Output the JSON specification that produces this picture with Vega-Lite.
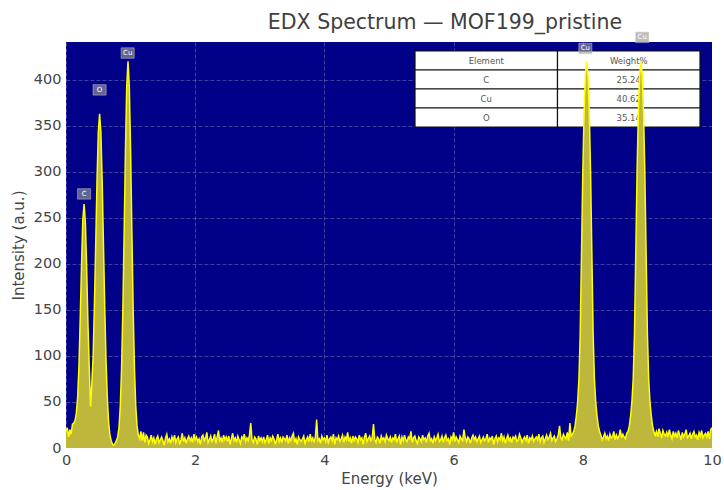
{
"$schema": "https://vega.github.io/schema/vega-lite/v6.json",
"width": 646, "height": 406,
"autosize": "none",
"padding": {"left": 66, "top": 42, "right": 12, "bottom": 42},
"background": "white",
"title": {"text": "EDX Spectrum — MOF199_pristine", "fontSize": 20.5, "fontWeight": "normal", "font": "DejaVu Sans", "color": "#404040", "anchor": "middle", "dx": 56, "dy": 13, "offset": 10},
"config": {
  "view": {"fill": "#000088", "stroke": null},
  "axis": {"labelFont": "DejaVu Sans", "labelFontSize": 14.5, "labelColor": "#444", "titleFont": "DejaVu Sans", "titleFontSize": 15, "titleFontWeight": "normal", "titleColor": "#444", "domain": false, "ticks": false, "labelPadding": 5, "labelFlush": false, "gridColor": "#ffffff", "gridOpacity": 0.3, "gridDash": [4, 2], "gridWidth": 0.8}
},
"datasets": {
"spec": [
{"e":0.00,"i":18},{"e":0.02,"i":22},{"e":0.04,"i":12},{"e":0.06,"i":20},{"e":0.08,"i":15},{"e":0.10,"i":26},{"e":0.12,"i":27},{"e":0.14,"i":30},{"e":0.16,"i":38},{"e":0.18,"i":55},
{"e":0.20,"i":88},{"e":0.22,"i":140},{"e":0.24,"i":198},{"e":0.26,"i":248},{"e":0.28,"i":265},{"e":0.30,"i":245},{"e":0.32,"i":195},{"e":0.34,"i":135},{"e":0.36,"i":88},{"e":0.38,"i":45},
{"e":0.40,"i":70},{"e":0.42,"i":100},{"e":0.44,"i":155},{"e":0.46,"i":222},{"e":0.48,"i":290},{"e":0.50,"i":343},{"e":0.52,"i":363},{"e":0.54,"i":343},{"e":0.56,"i":290},{"e":0.58,"i":221},
{"e":0.60,"i":152},{"e":0.62,"i":94},{"e":0.64,"i":54},{"e":0.66,"i":28},{"e":0.68,"i":14},{"e":0.70,"i":8},{"e":0.72,"i":4},{"e":0.74,"i":3},{"e":0.76,"i":5},{"e":0.78,"i":8},
{"e":0.80,"i":12},{"e":0.82,"i":22},{"e":0.84,"i":45},{"e":0.86,"i":86},{"e":0.88,"i":150},{"e":0.90,"i":234},{"e":0.92,"i":323},{"e":0.94,"i":393},{"e":0.96,"i":420},{"e":0.98,"i":393},
{"e":1.00,"i":323},{"e":1.02,"i":234},{"e":1.04,"i":150},{"e":1.06,"i":86},{"e":1.08,"i":45},{"e":1.10,"i":24},{"e":1.12,"i":14},{"e":1.14,"i":10},{"e":1.16,"i":18},{"e":1.18,"i":8},
{"e":1.20,"i":17},{"e":1.22,"i":6},{"e":1.24,"i":14},
{"e":1.26,"i":12},{"e":1.28,"i":5},{"e":1.30,"i":9},{"e":1.32,"i":14},{"e":1.34,"i":7},{"e":1.36,"i":11},{"e":1.38,"i":4},{"e":1.40,"i":10},{"e":1.42,"i":13},{"e":1.44,"i":6},
{"e":1.46,"i":9},{"e":1.48,"i":12},{"e":1.50,"i":8},{"e":1.52,"i":3},{"e":1.54,"i":11},{"e":1.56,"i":15},{"e":1.58,"i":7},{"e":1.60,"i":10},{"e":1.62,"i":5},{"e":1.64,"i":12},
{"e":1.66,"i":8},{"e":1.68,"i":14},{"e":1.70,"i":6},{"e":1.72,"i":10},{"e":1.74,"i":12},{"e":1.76,"i":4},{"e":1.78,"i":9},{"e":1.80,"i":16},{"e":1.82,"i":7},{"e":1.84,"i":11},
{"e":1.86,"i":5},{"e":1.88,"i":10},{"e":1.90,"i":13},{"e":1.92,"i":8},{"e":1.94,"i":11},{"e":1.96,"i":6},{"e":1.98,"i":15},{"e":2.00,"i":9},{"e":2.02,"i":12},{"e":2.04,"i":7},
{"e":2.06,"i":10},{"e":2.08,"i":4},{"e":2.10,"i":12},{"e":2.12,"i":14},{"e":2.14,"i":8},{"e":2.16,"i":11},{"e":2.18,"i":17},{"e":2.20,"i":6},{"e":2.22,"i":9},{"e":2.24,"i":13},
{"e":2.26,"i":7},{"e":2.28,"i":10},{"e":2.30,"i":15},{"e":2.32,"i":5},{"e":2.34,"i":12},{"e":2.36,"i":19},{"e":2.38,"i":8},{"e":2.40,"i":11},{"e":2.42,"i":6},{"e":2.44,"i":14},
{"e":2.46,"i":9},{"e":2.48,"i":12},{"e":2.50,"i":7},{"e":2.52,"i":13},{"e":2.54,"i":4},{"e":2.56,"i":10},{"e":2.58,"i":16},{"e":2.60,"i":8},{"e":2.62,"i":11},{"e":2.64,"i":6},
{"e":2.66,"i":13},{"e":2.68,"i":9},{"e":2.70,"i":5},{"e":2.72,"i":12},{"e":2.74,"i":10},{"e":2.76,"i":15},{"e":2.78,"i":7},{"e":2.80,"i":11},{"e":2.82,"i":8},{"e":2.84,"i":14},
{"e":2.86,"i":27},{"e":2.88,"i":9},{"e":2.90,"i":6},{"e":2.92,"i":12},{"e":2.94,"i":10},{"e":2.96,"i":4},{"e":2.98,"i":13},{"e":3.00,"i":8},{"e":3.02,"i":11},{"e":3.04,"i":7},
{"e":3.06,"i":12},{"e":3.08,"i":6},{"e":3.10,"i":9},{"e":3.12,"i":14},{"e":3.14,"i":5},{"e":3.16,"i":11},{"e":3.18,"i":8},{"e":3.20,"i":13},{"e":3.22,"i":10},{"e":3.24,"i":4},
{"e":3.26,"i":9},{"e":3.28,"i":15},{"e":3.30,"i":7},{"e":3.32,"i":11},{"e":3.34,"i":6},{"e":3.36,"i":12},{"e":3.38,"i":10},{"e":3.40,"i":8},{"e":3.42,"i":14},{"e":3.44,"i":5},
{"e":3.46,"i":11},{"e":3.48,"i":8},{"e":3.50,"i":13},{"e":3.52,"i":16},{"e":3.54,"i":6},{"e":3.56,"i":10},{"e":3.58,"i":4},{"e":3.60,"i":12},{"e":3.62,"i":9},{"e":3.64,"i":7},
{"e":3.66,"i":10},{"e":3.68,"i":13},{"e":3.70,"i":5},{"e":3.72,"i":9},{"e":3.74,"i":12},{"e":3.76,"i":7},{"e":3.78,"i":15},{"e":3.80,"i":8},{"e":3.82,"i":11},{"e":3.84,"i":6},
{"e":3.86,"i":12},{"e":3.88,"i":31},{"e":3.90,"i":8},{"e":3.92,"i":10},{"e":3.94,"i":5},{"e":3.96,"i":13},{"e":3.98,"i":9},{"e":4.00,"i":11},{"e":4.02,"i":7},{"e":4.04,"i":14},
{"e":4.06,"i":6},{"e":4.08,"i":10},{"e":4.10,"i":12},{"e":4.12,"i":8},{"e":4.14,"i":15},{"e":4.16,"i":4},{"e":4.18,"i":11},{"e":4.20,"i":9},{"e":4.22,"i":13},{"e":4.24,"i":7},
{"e":4.26,"i":10},{"e":4.28,"i":14},{"e":4.30,"i":6},{"e":4.32,"i":12},{"e":4.34,"i":9},{"e":4.36,"i":17},{"e":4.38,"i":7},{"e":4.40,"i":11},{"e":4.42,"i":5},{"e":4.44,"i":13},
{"e":4.46,"i":8},{"e":4.48,"i":12},{"e":4.50,"i":10},{"e":4.52,"i":6},{"e":4.54,"i":14},{"e":4.56,"i":9},{"e":4.58,"i":11},{"e":4.60,"i":4},{"e":4.62,"i":12},{"e":4.64,"i":16},
{"e":4.66,"i":7},{"e":4.68,"i":10},{"e":4.70,"i":13},{"e":4.72,"i":8},{"e":4.74,"i":11},{"e":4.76,"i":26},{"e":4.78,"i":9},{"e":4.80,"i":6},{"e":4.82,"i":12},{"e":4.84,"i":10},
{"e":4.86,"i":5},{"e":4.88,"i":13},{"e":4.90,"i":9},{"e":4.92,"i":11},{"e":4.94,"i":7},{"e":4.96,"i":14},{"e":4.98,"i":10},{"e":5.00,"i":8},{"e":5.02,"i":12},{"e":5.04,"i":6},
{"e":5.06,"i":11},{"e":5.08,"i":9},{"e":5.10,"i":15},{"e":5.12,"i":6},{"e":5.14,"i":10},{"e":5.16,"i":13},{"e":5.18,"i":4},{"e":5.20,"i":12},{"e":5.22,"i":8},{"e":5.24,"i":14},
{"e":5.26,"i":9},{"e":5.28,"i":7},{"e":5.30,"i":12},{"e":5.32,"i":10},{"e":5.34,"i":18},{"e":5.36,"i":6},{"e":5.38,"i":11},{"e":5.40,"i":13},{"e":5.42,"i":8},{"e":5.44,"i":5},
{"e":5.46,"i":12},{"e":5.48,"i":10},{"e":5.50,"i":7},{"e":5.52,"i":14},{"e":5.54,"i":9},{"e":5.56,"i":11},{"e":5.58,"i":6},{"e":5.60,"i":13},{"e":5.62,"i":16},{"e":5.64,"i":8},
{"e":5.66,"i":10},{"e":5.68,"i":5},{"e":5.70,"i":12},{"e":5.72,"i":8},{"e":5.74,"i":11},{"e":5.76,"i":15},{"e":5.78,"i":7},{"e":5.80,"i":9},{"e":5.82,"i":13},{"e":5.84,"i":6},
{"e":5.86,"i":11},{"e":5.88,"i":14},{"e":5.90,"i":8},{"e":5.92,"i":10},{"e":5.94,"i":4},{"e":5.96,"i":12},{"e":5.98,"i":9},{"e":6.00,"i":17},{"e":6.02,"i":7},{"e":6.04,"i":12},
{"e":6.06,"i":9},{"e":6.08,"i":6},{"e":6.10,"i":13},{"e":6.12,"i":10},{"e":6.14,"i":8},{"e":6.16,"i":20},{"e":6.18,"i":11},{"e":6.20,"i":7},{"e":6.22,"i":12},{"e":6.24,"i":10},
{"e":6.26,"i":5},{"e":6.28,"i":11},{"e":6.30,"i":14},{"e":6.32,"i":9},{"e":6.34,"i":12},{"e":6.36,"i":7},{"e":6.38,"i":10},{"e":6.40,"i":13},{"e":6.42,"i":6},{"e":6.44,"i":9},
{"e":6.46,"i":12},{"e":6.48,"i":8},{"e":6.50,"i":10},{"e":6.52,"i":15},{"e":6.54,"i":6},{"e":6.56,"i":11},{"e":6.58,"i":9},{"e":6.60,"i":13},{"e":6.62,"i":4},{"e":6.64,"i":10},
{"e":6.66,"i":13},{"e":6.68,"i":7},{"e":6.70,"i":11},{"e":6.72,"i":9},{"e":6.74,"i":16},{"e":6.76,"i":8},{"e":6.78,"i":12},{"e":6.80,"i":5},{"e":6.82,"i":10},{"e":6.84,"i":14},
{"e":6.86,"i":8},{"e":6.88,"i":11},{"e":6.90,"i":6},{"e":6.92,"i":12},{"e":6.94,"i":10},{"e":6.96,"i":13},{"e":6.98,"i":7},{"e":7.00,"i":9},{"e":7.02,"i":15},{"e":7.04,"i":11},
{"e":7.06,"i":6},{"e":7.08,"i":10},{"e":7.10,"i":12},{"e":7.12,"i":8},{"e":7.14,"i":14},{"e":7.16,"i":5},{"e":7.18,"i":11},{"e":7.20,"i":9},{"e":7.22,"i":13},{"e":7.24,"i":7},
{"e":7.26,"i":10},{"e":7.28,"i":12},{"e":7.30,"i":9},{"e":7.32,"i":15},{"e":7.34,"i":7},{"e":7.36,"i":11},{"e":7.38,"i":13},{"e":7.40,"i":6},{"e":7.42,"i":10},{"e":7.44,"i":14},
{"e":7.46,"i":9},{"e":7.48,"i":12},{"e":7.50,"i":16},{"e":7.52,"i":8},{"e":7.54,"i":11},{"e":7.56,"i":13},{"e":7.58,"i":7},{"e":7.60,"i":10},{"e":7.62,"i":14},{"e":7.64,"i":24},
{"e":7.66,"i":11},{"e":7.68,"i":9},{"e":7.70,"i":15},{"e":7.72,"i":12},{"e":7.74,"i":10},{"e":7.76,"i":17},{"e":7.78,"i":8},{"e":7.80,"i":27},{"e":7.82,"i":13},{"e":7.84,"i":15},
{"e":7.86,"i":18},{"e":7.88,"i":24},{"e":7.90,"i":35},{"e":7.92,"i":50},{"e":7.94,"i":75},{"e":7.96,"i":124},{"e":7.98,"i":212},{"e":8.00,"i":300},{"e":8.02,"i":365},{"e":8.04,"i":405},
{"e":8.06,"i":420},{"e":8.08,"i":405},{"e":8.10,"i":365},{"e":8.12,"i":300},{"e":8.14,"i":212},{"e":8.16,"i":124},{"e":8.18,"i":75},{"e":8.20,"i":50},{"e":8.22,"i":35},{"e":8.24,"i":24},
{"e":8.26,"i":18},{"e":8.28,"i":14},{"e":8.30,"i":9},{"e":8.32,"i":12},{"e":8.34,"i":16},{"e":8.36,"i":10},{"e":8.38,"i":13},{"e":8.40,"i":8},{"e":8.42,"i":15},{"e":8.44,"i":11},
{"e":8.46,"i":12},{"e":8.48,"i":18},{"e":8.50,"i":9},{"e":8.52,"i":14},{"e":8.54,"i":10},{"e":8.56,"i":13},{"e":8.58,"i":20},{"e":8.60,"i":11},{"e":8.62,"i":15},{"e":8.64,"i":12},
{"e":8.66,"i":10},{"e":8.68,"i":16},
{"e":8.70,"i":18},{"e":8.72,"i":24},{"e":8.74,"i":35},{"e":8.76,"i":50},{"e":8.78,"i":75},{"e":8.80,"i":124},{"e":8.82,"i":212},{"e":8.84,"i":300},{"e":8.86,"i":365},{"e":8.88,"i":405},
{"e":8.90,"i":420},{"e":8.92,"i":405},{"e":8.94,"i":365},{"e":8.96,"i":300},{"e":8.98,"i":212},{"e":9.00,"i":124},{"e":9.02,"i":75},{"e":9.04,"i":50},{"e":9.06,"i":35},{"e":9.08,"i":24},
{"e":9.10,"i":18},{"e":9.12,"i":14},{"e":9.14,"i":18},{"e":9.16,"i":12},{"e":9.18,"i":21},{"e":9.20,"i":16},{"e":9.22,"i":11},{"e":9.24,"i":19},{"e":9.26,"i":15},{"e":9.28,"i":13},
{"e":9.30,"i":17},{"e":9.32,"i":12},{"e":9.34,"i":20},{"e":9.36,"i":14},{"e":9.38,"i":10},{"e":9.40,"i":18},{"e":9.42,"i":13},{"e":9.44,"i":16},{"e":9.46,"i":11},{"e":9.48,"i":19},
{"e":9.50,"i":14},{"e":9.52,"i":9},{"e":9.54,"i":17},{"e":9.56,"i":12},{"e":9.58,"i":15},{"e":9.60,"i":20},{"e":9.62,"i":11},{"e":9.64,"i":13},{"e":9.66,"i":16},{"e":9.68,"i":10},
{"e":9.70,"i":15},{"e":9.72,"i":18},{"e":9.74,"i":12},{"e":9.76,"i":14},{"e":9.78,"i":9},{"e":9.80,"i":17},{"e":9.82,"i":13},{"e":9.84,"i":19},{"e":9.86,"i":11},{"e":9.88,"i":14},
{"e":9.90,"i":16},{"e":9.92,"i":12},{"e":9.94,"i":18},{"e":9.96,"i":10},{"e":9.98,"i":20},{"e":10.00,"i":22}
],
"peaks": [
{"el":"C","e":0.28,"y":276},
{"el":"O","e":0.52,"y":389},
{"el":"Cu","e":0.955,"y":429},
{"el":"Cu","e":8.04,"y":434},
{"el":"Cu","e":8.92,"y":446}
],
"table": [
{"row":"Element","col":"Element","txt":"Element"},
{"row":"Element","col":"Weight%","txt":"Weight%"},
{"row":"C","col":"Element","txt":"C"},
{"row":"C","col":"Weight%","txt":"25.24"},
{"row":"Cu","col":"Element","txt":"Cu"},
{"row":"Cu","col":"Weight%","txt":"40.62"},
{"row":"O","col":"Element","txt":"O"},
{"row":"O","col":"Weight%","txt":"35.14"}
]
},
"layer": [
{
  "data": {"name": "table"},
  "encoding": {
    "x": {"field": "col", "type": "nominal", "axis": null, "scale": {"domain": ["Element", "Weight%"], "range": [349, 634], "paddingInner": 0, "paddingOuter": 0}},
    "y": {"field": "row", "type": "nominal", "axis": null, "scale": {"domain": ["Element", "C", "Cu", "O"], "range": [9, 85], "paddingInner": 0, "paddingOuter": 0}}
  },
  "layer": [
    {"mark": {"type": "rect", "fill": "#ffffff", "stroke": "#111111", "strokeWidth": 1.2}},
    {"mark": {"type": "text", "font": "DejaVu Sans", "fontSize": 8.5, "fill": "#555555"}, "encoding": {"text": {"field": "txt"}}}
  ]
},
{
  "data": {"name": "spec"},
  "encoding": {
    "x": {"field": "e", "type": "quantitative", "title": "Energy (keV)", "scale": {"domain": [0, 10], "nice": false}, "axis": {"orient": "bottom", "grid": true, "values": [0, 2, 4, 6, 8, 10], "titlePadding": 5}},
    "y": {"field": "i", "type": "quantitative", "title": "Intensity (a.u.)", "scale": {"domain": [0, 441], "nice": false, "zero": true}, "axis": {"orient": "left", "grid": true, "values": [0, 50, 100, 150, 200, 250, 300, 350, 400], "titlePadding": 7}}
  },
  "layer": [
    {"mark": {"type": "area", "color": "#bdb83c", "opacity": 1}},
    {"mark": {"type": "line", "color": "#ffff00", "strokeWidth": 1.5}},
    {"data": {"name": "peaks"}, "mark": {"type": "point", "shape": "M-1.25,-1H1.25V1H-1.25Z", "size": 110, "filled": true, "fill": "#999999", "fillOpacity": 0.65, "stroke": "#cccccc", "strokeWidth": 0.6, "strokeOpacity": 0.8},
     "encoding": {"x": {"field": "e", "type": "quantitative"}, "y": {"field": "y", "type": "quantitative"}}},
    {"data": {"name": "peaks"}, "mark": {"type": "text", "font": "DejaVu Sans", "fontSize": 7, "fill": "#ffffff"},
     "encoding": {"x": {"field": "e", "type": "quantitative"}, "y": {"field": "y", "type": "quantitative"}, "text": {"field": "el"}}}
  ]
}
],
"resolve": {"scale": {"x": "independent", "y": "independent"}}
}
